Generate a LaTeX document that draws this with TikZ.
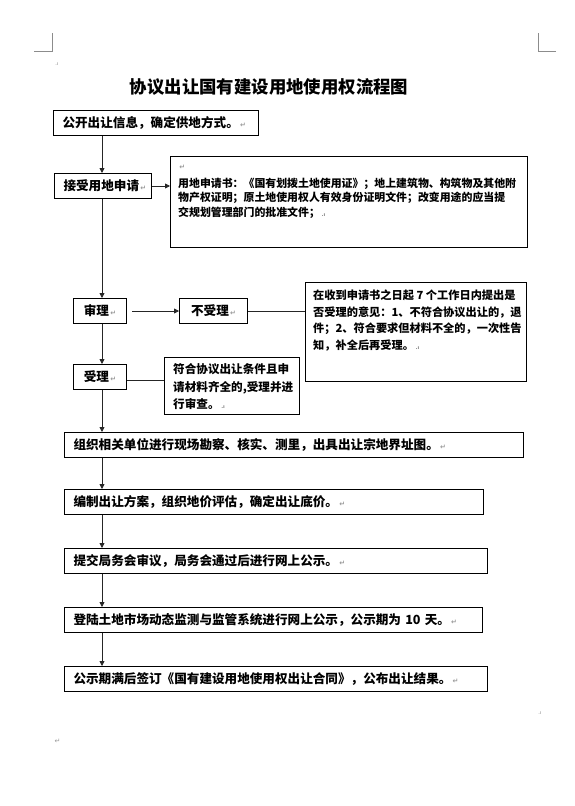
\documentclass[tikz,border=0pt]{standalone}
\usepackage{fontspec}
\setmainfont{Noto Sans CJK SC}
\newfontfamily\marksfont{DejaVu Sans}
\usepackage{tikz}
\usetikzlibrary{arrows.meta, positioning}
\newcommand\parmark{{\marksfont\fontsize{7}{7}\selectfont\color{black!40}\,↵}}
\newcommand\cellmark{{\marksfont\fontsize{5}{5}\selectfont\color{black!50}\ .ı}}
\newcommand\boxfont{\fontsize{12.6}{15}\selectfont\bfseries}
\newcommand\notefont{\fontsize{10.9}{14.5}\selectfont\bfseries}

\begin{document}
\begin{tikzpicture}[
  x=1pt, y=-1pt,
  stepbox/.style={draw, line width=1pt, anchor=north west,
    minimum height=25pt, inner xsep=9pt, inner ysep=0pt,
    align=left, font=\boxfont},
  smallbox/.style={draw, line width=1pt, anchor=north west,
    minimum height=25pt, inner sep=0pt, font=\boxfont},
  notebox/.style={draw, line width=1pt, anchor=north west, inner sep=0pt},
  notetext/.style={anchor=north west, inner sep=0pt, align=left, font=\notefont},
  cropmark/.style={draw=black!45, line width=0.8pt},
  arr/.style={-{Triangle[length=5pt, width=5pt]}, line width=0.8pt, black!85},
  link/.style={line width=0.8pt, black!85}
]
  \useasboundingbox (0,0) rectangle (575,806);

  \draw[cropmark] (34,51) -- (52,51) -- (52,33);
  \draw[cropmark] (556,51) -- (538,51) -- (538,33);
  \node[inner sep=0pt] (topmark) at (56,64) {\cellmark};
  \node[inner sep=0pt] (endmark) at (539,713) {\cellmark};
  \node[inner sep=0pt] (lastpar) at (57,741) {\parmark};

  \node[font=\fontsize{17.4}{20}\selectfont\bfseries] (title) at (269,87)
    {协议出让国有建设用地使用权流程图};

  \coordinate (spine) at (102,0);

  \node[stepbox, text width=187pt] (info) at (53,110)
    {公开出让信息，确定供地方式。\parmark};
  \node[stepbox, text width=79pt, inner xsep=9pt] (apply) at (54,173)
    {接受用地申请\parmark};
  \node[notebox, minimum width=357pt, minimum height=91pt] (docs) at (170,156) {};
  \node[notetext, below right=9pt and 8pt of docs.north west] (docstext)
    {\parmark\\[3pt]
     用地申请书：《国有划拨土地使用证》；地上建筑物、构筑物及其他附\\
     物产权证明；原土地使用权人有效身份证明文件；改变用途的应当提\\
     交规划管理部门的批准文件；\cellmark};

  \node[smallbox, minimum width=53pt] (review) at (73,298) {审理\parmark};
  \node[smallbox, minimum width=68pt] (reject) at (179,298) {不受理\parmark};
  \node[notebox, minimum width=221pt, minimum height=99pt] (rejectnote) at (305,282) {};
  \node[notetext, font=\fontsize{11.2}{16.6}\selectfont\bfseries,
    below right=7.5pt and 8pt of rejectnote.north west] (rejecttext)
    {在收到申请书之日起 7 个工作日内提出是\\
     否受理的意见：1、不符合协议出让的，退\\
     件；2、符合要求但材料不全的，一次性告\\
     知，补全后再受理。\cellmark};

  \node[smallbox, minimum width=53pt] (accept) at (73,364) {受理\parmark};
  \node[notebox, minimum width=135pt, minimum height=57pt] (acceptnote) at (164,357) {};
  \node[notetext, font=\fontsize{11.6}{17.5}\selectfont\bfseries,
    below right=6.5pt and 9pt of acceptnote.north west] (accepttext)
    {符合协议出让条件且申\\
     请材料齐全的,受理并进\\
     行审查。\cellmark};

  \node[stepbox, text width=441pt] (survey) at (64,432)
    {组织相关单位进行现场勘察、核实、测里，出具出让宗地界址图。\parmark};
  \node[stepbox, text width=401pt] (plan) at (64,489)
    {编制出让方案，组织地价评估，确定出让底价。\parmark};
  \node[stepbox, text width=405pt] (meeting) at (64,548)
    {提交局务会审议，局务会通过后进行网上公示。\parmark};
  \node[stepbox, text width=400pt] (publicity) at (64,607)
    {登陆土地市场动态监测与监管系统进行网上公示，公示期为 10 天。\parmark};
  \node[stepbox, text width=405pt] (contract) at (64,666)
    {公示期满后签订《国有建设用地使用权出让合同》，公布出让结果。\parmark};

  \draw[arr] (info.south -| spine) -- (apply.north -| spine);
  \draw[arr] (apply.east) -- (apply.east -| docs.west);
  \draw[arr] (apply.south -| spine) -- (review.north -| spine);
  \draw[arr] ([xshift=5pt]review.east) -- (reject.west);
  \draw[link] (reject.east) -- (reject.east -| rejectnote.west);
  \draw[arr] (review.south -| spine) -- (accept.north -| spine);
  \draw[link] ([yshift=-3pt]accept.east) -- ([yshift=-3pt]accept.east -| acceptnote.west);
  \draw[arr] (accept.south -| spine) -- (survey.north -| spine);
  \foreach \a/\b in {survey/plan, plan/meeting, meeting/publicity, publicity/contract}
    \draw[arr] (\a.south -| spine) -- (\b.north -| spine);
\end{tikzpicture}
\end{document}
